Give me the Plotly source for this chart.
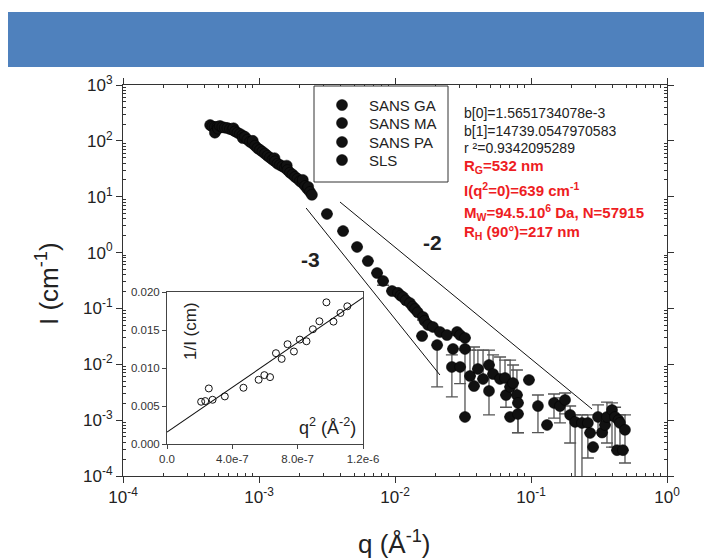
import plotly.graph_objects as go

# ---------------- data ----------------
sls_q = [4.37e-4, 4.55e-4, 4.74e-4, 4.74e-4, 4.95e-4, 5.0e-4, 5.16e-4, 5.38e-4, 5.62e-4, 5.86e-4,
         6.12e-4, 6.38e-4, 6.5e-4, 6.67e-4, 6.95e-4, 7.24e-4, 7.55e-4, 7.6e-4, 7.89e-4, 8.22e-4,
         8.59e-4, 8.96e-4, 9.0e-4, 9.35e-4, 9.75e-4, 1.017e-3, 1.06e-3, 1.107e-3, 1.155e-3, 1.205e-3,
         1.257e-3, 1.3e-3, 1.312e-3, 1.368e-3, 1.426e-3, 1.488e-3, 1.552e-3, 1.6e-3, 1.62e-3, 1.69e-3,
         1.765e-3, 1.841e-3, 1.92e-3, 2.0e-3, 2.09e-3, 2.1e-3, 2.18e-3, 2.27e-3, 2.3e-3, 2.37e-3,
         2.45e-3]
sls_I = [192, 180, 177, 140, 178, 165, 185, 176, 172, 170,
         163, 158, 168, 148, 140, 133, 125, 112, 118, 105,
         96, 90, 100, 82, 74, 69, 64, 59, 54, 50,
         46, 49, 43, 39, 37, 35, 33, 36, 30, 27,
         25, 22.6, 21, 19, 17.5, 20, 15.6, 13.8, 15, 12.2,
         10.8]

pa_q = [3.16e-3, 4.15e-3, 5.26e-3, 6.32e-3, 7.38e-3, 8.17e-3, 9.51e-3, 0.01052, 0.0110, 0.01146,
        0.0120, 0.01288, 0.0135, 0.01403, 0.0147, 0.01581, 0.01607, 0.0165]
pa_I = [4.91, 2.43, 1.26, 0.706, 0.431, 0.31, 0.205, 0.19, 0.17, 0.160,
        0.14, 0.125, 0.108, 0.0977, 0.085, 0.0321, 0.0703, 0.060]
pa_hi = [None] * 18
pa_lo = [None, None, None, None, None, 0.26, None, None, None, None,
         None, None, None, None, None, None, 0.0621, None]

ma_q = [0.0175, 0.0190, 0.0204, 0.0214, 0.0241, 0.0262, 0.0267, 0.0286, 0.0301, 0.0301,
        0.0327, 0.0327, 0.0327, 0.0356, 0.0381, 0.0407, 0.0444, 0.0491, 0.0491, 0.0526,
        0.0592, 0.0644, 0.0655, 0.0702, 0.0738, 0.0788, 0.0802, 0.0702, 0.0802, 0.0966]
ma_I = [0.0506, 0.0466, 0.0221, 0.0379, 0.0334, 0.00895, 0.0188, 0.0379, 0.0334, 0.00895,
        0.0296, 0.0188, 0.00114, 0.00617, 0.00408, 0.00824, 0.00546, 0.0097, 0.00333, 0.0067,
        0.00546, 0.00569, 0.00282, 0.00393, 0.00462, 0.00282, 0.00203, 0.00114, 0.00129, 0.00524]
ma_hi = [None, None, None, None, None, 0.0147, None, None, None, None,
         None, None, 0.018, 0.018, 0.0204, 0.018, 0.018, None, 0.018, 0.0147,
         0.0135, 0.0119, None, 0.0119, 0.0097, 0.0079, None, None, None, None]
ma_lo = [None, None, 0.00393, None, None, 0.0026, None, None, None, 0.0045,
         None, None, None, None, None, None, None, None, 0.00124, None,
         None, None, 0.0017, None, None, None, 0.0006, None, 0.00059, None]

ga_q = [0.1125, 0.1312, 0.1476, 0.1633, 0.178, 0.194, 0.211, 0.237, 0.262, 0.272,
        0.286, 0.311, 0.333, 0.35, 0.362, 0.394, 0.415, 0.429, 0.44, 0.451, 0.474, 0.491]
ga_I = [0.00179, 0.00082, 0.00203, 0.00179, 0.0023, 0.00124, 0.00093, 0.00089, 0.00089, 0.00059,
        0.00033, 0.00114, 0.0006, 0.00082, 0.00114, 0.00152, 0.00114, 0.00029, 0.0010, 0.00089,
        0.00029, 0.00067]
ga_hi = [0.00282, None, 0.00294, 0.0025, 0.00306, 0.00179, 0.00124, 0.00124, 0.00124, None,
         None, 0.00187, None, None, 0.00211, 0.00203, 0.0017, None, None, 0.00124,
         None, 0.00124]
ga_lo = [0.0006, None, 0.00109, 0.00089, 0.0013, 0.00039, 1e-5, 1e-5, 0.00021, None,
         None, 0.00059, None, None, 0.00039, 0.00033, 0.00033, None, None, 0.00033,
         None, 0.000171]

# power-law guide lines (end points)
slope3_q = [2.22e-3, 0.0214]
slope3_I = [6.28, 0.00643]
slope2_q = [3.94e-3, 0.281]
slope2_I = [8.04, 0.00158]

# Guinier inset
inset_q2 = [2.09e-7, 2.34e-7, 2.56e-7, 2.79e-7, 3.54e-7, 4.68e-7, 5.61e-7, 5.96e-7, 6.31e-7, 6.67e-7,
            7.02e-7, 7.38e-7, 7.77e-7, 8.13e-7, 8.54e-7, 8.93e-7, 9.33e-7, 9.76e-7, 1.019e-6, 1.062e-6,
            1.104e-6]
inset_invI = [0.00556, 0.00565, 0.00731, 0.00582, 0.00626, 0.0074, 0.00845, 0.00906, 0.0088, 0.01195,
              0.0112, 0.01313, 0.01217, 0.01374, 0.01352, 0.0151, 0.01615, 0.01864, 0.0161, 0.01724,
              0.01812]
fit_q2 = [0.0, 1.2e-6]
fit_invI = [0.0015652, 0.019252]

legend_names = ["SANS GA", "SANS MA", "SANS PA", "SLS"]
stats_lines = ["b[0]=1.5651734078e-3", "b[1]=14739.0547970583", "r ²=0.9342095289"]
red_lines = ["R<sub>G</sub>=532 nm", "I(q<sup>2</sup>=0)=639 cm<sup>-1</sup>",
             "M<sub>W</sub>=94.5.10<sup>6</sup> Da, N=57915", "R<sub>H</sub> (90°)=217 nm"]

x_tickvals = [1e-4, 1e-3, 1e-2, 1e-1, 1]
x_ticktext = ["10<sup>-4</sup>", "10<sup>-3</sup>", "10<sup>-2</sup>", "10<sup>-1</sup>", "10<sup>0</sup>"]
y_tickvals = [1e-4, 1e-3, 1e-2, 1e-1, 1, 10, 100, 1000]
y_ticktext = ["10<sup>-4</sup>", "10<sup>-3</sup>", "10<sup>-2</sup>", "10<sup>-1</sup>",
              "10<sup>0</sup>", "10<sup>1</sup>", "10<sup>2</sup>", "10<sup>3</sup>"]
inset_xt = [0, 4e-7, 8e-7, 1.2e-6]
inset_xtt = ["0.0", "4.0e-7", "8.0e-7", "1.2e-6"]
inset_yt = [0, 0.005, 0.01, 0.015, 0.02]
inset_ytt = ["0.000", "0.005", "0.010", "0.015", "0.020"]

# ---------------- layout geometry ----------------
W, H = 704, 560
L, R, T, B = 123, 667, 85, 476
FONT = "Liberation Sans, Arial, sans-serif"


def px(x):
    return (x - L) / (R - L)


def py(y):
    return (B - y) / (B - T)


def errs(vals, hi, lo):
    plus, minus = [], []
    for v, h, l in zip(vals, hi, lo):
        if h is None and l is None:
            plus.append(None)
            minus.append(None)
        else:
            plus.append((h - v) if h is not None else 0.0)
            minus.append((v - l) if l is not None else 0.0)
    return plus, minus


fig = go.Figure()

marker = dict(color="#111111", size=11, line=dict(color="#000000", width=0.5))
ebar_style = dict(color="#555555", thickness=1.3, width=6)

series = [
    ("SLS", sls_q, sls_I, None, None),
    ("SANS PA", pa_q, pa_I, pa_hi, pa_lo),
    ("SANS MA", ma_q, ma_I, ma_hi, ma_lo),
    ("SANS GA", ga_q, ga_I, ga_hi, ga_lo),
]
for name, q, I, hi, lo in series:
    kw = {}
    if hi is not None:
        plus, minus = errs(I, hi, lo)
        kw["error_y"] = dict(type="data", symmetric=False, array=plus, arrayminus=minus, **ebar_style)
    fig.add_trace(go.Scatter(x=q, y=I, mode="markers", name=name, marker=marker,
                             showlegend=False, cliponaxis=True, **kw))

for lq, lI in [(slope3_q, slope3_I), (slope2_q, slope2_I)]:
    fig.add_trace(go.Scatter(x=lq, y=lI, mode="lines", line=dict(color="#111111", width=1),
                             showlegend=False, hoverinfo="skip"))

# inset
fig.add_trace(go.Scatter(x=inset_q2, y=inset_invI, mode="markers", xaxis="x2", yaxis="y2",
                         marker=dict(symbol="circle-open", size=7, color="#111111", line=dict(width=1)),
                         showlegend=False))
fig.add_trace(go.Scatter(x=fit_q2, y=fit_invI, mode="lines", xaxis="x2", yaxis="y2",
                         line=dict(color="#111111", width=1.1), showlegend=False))

axis_common = dict(showline=True, linecolor="#333333", linewidth=1, mirror="ticks",
                   ticks="outside", ticklen=6, tickcolor="#333333", tickwidth=1,
                   showgrid=False, zeroline=False,
                   tickfont=dict(family=FONT, size=17, color="#222222"))

minor_x = [m * 10 ** e for e in range(-4, 0) for m in range(2, 10)]
minor_y = [m * 10 ** e for e in range(-4, 3) for m in range(2, 10)]

fig.update_layout(
    width=W, height=H,
    margin=dict(l=L, r=W - R, t=T, b=H - B),
    paper_bgcolor="white", plot_bgcolor="white",
    font=dict(family=FONT, color="#222222"),
    xaxis=dict(type="log", range=[-4, 0], domain=[0, 1], tickmode="array",
               tickvals=x_tickvals, ticktext=x_ticktext,
               minor=dict(tickmode="array", tickvals=minor_x, ticks="inside", ticklen=3,
                          tickcolor="#333333", showgrid=False),
               **axis_common),
    yaxis=dict(type="log", range=[-4, 3], domain=[0, 1], tickmode="array",
               tickvals=y_tickvals, ticktext=y_ticktext,
               minor=dict(tickmode="array", tickvals=minor_y, ticks="inside", ticklen=3,
                          tickcolor="#333333", showgrid=False),
               **axis_common),
    xaxis2=dict(domain=[px(167), px(363)], anchor="y2", range=[0, 1.2e-6],
                tickmode="array", tickvals=inset_xt, ticktext=inset_xtt,
                showline=True, linecolor="#444444", mirror=True, ticks="outside", ticklen=4,
                tickcolor="#444444", showgrid=False, zeroline=False,
                tickfont=dict(family=FONT, size=11.5, color="#333333")),
    yaxis2=dict(domain=[py(444), py(292)], anchor="x2", range=[0, 0.02],
                tickmode="array", tickvals=inset_yt, ticktext=inset_ytt,
                showline=True, linecolor="#444444", mirror=True, ticks="outside", ticklen=4,
                tickcolor="#444444", showgrid=False, zeroline=False,
                tickfont=dict(family=FONT, size=11.5, color="#333333")),
)

shapes = [
    # blue banner
    dict(type="rect", xref="paper", yref="paper", x0=px(8), x1=px(704), y0=py(67), y1=py(12),
         fillcolor="#4F81BD", line=dict(width=0), layer="above"),
    # legend box
    dict(type="rect", xref="paper", yref="paper", x0=px(314), x1=px(448), y0=py(182), y1=py(86),
         fillcolor="white", line=dict(color="#333333", width=1), layer="above"),
]
legend_rows = [105, 123, 142, 160]
for yy in legend_rows:
    shapes.append(dict(type="circle", xref="paper", yref="paper", xsizemode="pixel", ysizemode="pixel",
                       xanchor=px(342), yanchor=py(yy), x0=-5.5, x1=5.5, y0=-5.5, y1=5.5,
                       fillcolor="#111111", line=dict(color="#000000", width=0.5), layer="above"))
fig.update_layout(shapes=shapes)

ann = []
for name, yy in zip(legend_names, legend_rows):
    ann.append(dict(text=name, x=px(367), y=py(yy), xanchor="left", yanchor="middle",
                    font=dict(size=15, color="#222222")))
for txt, yy in zip(stats_lines, [113, 131, 148]):
    ann.append(dict(text=txt, x=px(462), y=py(yy), xanchor="left", yanchor="middle",
                    font=dict(size=14, color="#222222")))
for txt, yy in zip(red_lines, [167, 189, 212, 233]):
    ann.append(dict(text="<b>" + txt + "</b>", x=px(462), y=py(yy), xanchor="left", yanchor="middle",
                    font=dict(size=15, color="#EE1D23")))
ann += [
    dict(text="<b>-3</b>", x=px(310), y=py(259), xanchor="center", yanchor="middle",
         font=dict(size=21, color="#222222")),
    dict(text="<b>-2</b>", x=px(432), y=py(243), xanchor="center", yanchor="middle",
         font=dict(size=21, color="#222222")),
    dict(text="I (cm<sup>-1</sup>)", x=px(47), y=py(284), textangle=-90, xanchor="center",
         yanchor="middle", font=dict(size=26, color="#222222")),
    dict(text="q (Å<sup>-1</sup>)", x=px(394), y=py(542), xanchor="center", yanchor="middle",
         font=dict(size=26, color="#222222")),
    dict(text="1/I (cm)", x=px(190), y=py(331), textangle=-90, xanchor="center", yanchor="middle",
         font=dict(size=17, color="#222222")),
    dict(text="q<sup>2</sup> (Å<sup>-2</sup>)", x=px(327), y=py(426), xanchor="center",
         yanchor="middle", font=dict(size=18, color="#222222")),
]
for a in ann:
    a.update(xref="paper", yref="paper", showarrow=False)
fig.update_layout(annotations=ann)

fig.write_html("out.html", config={"displayModeBar": False},
               post_script="document.body.style.margin='0';document.body.style.overflow='hidden';")
